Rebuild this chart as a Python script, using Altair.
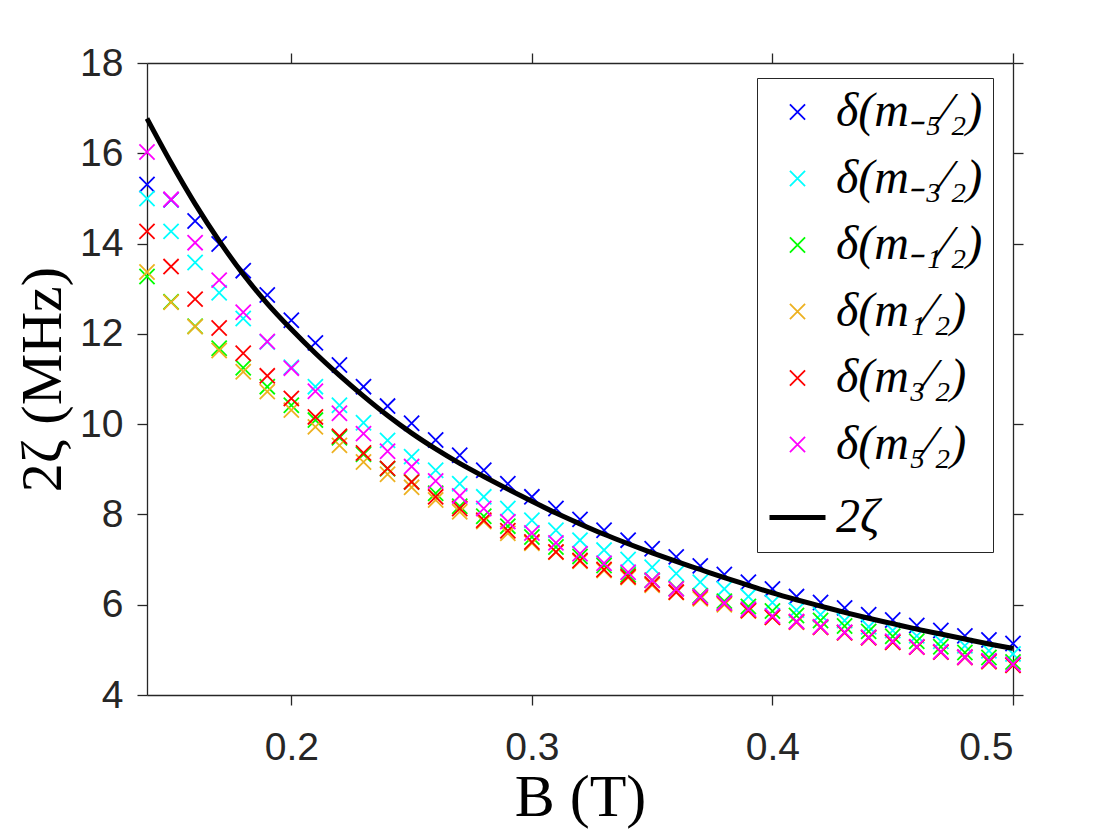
import altair as alt
import pandas as pd

B_T = [0.14, 0.15, 0.16, 0.17, 0.18, 0.19, 0.20, 0.21, 0.22, 0.23, 0.24, 0.25,
       0.26, 0.27, 0.28, 0.29, 0.30, 0.31, 0.32, 0.33, 0.34, 0.35, 0.36, 0.37,
       0.38, 0.39, 0.40, 0.41, 0.42, 0.43, 0.44, 0.45, 0.46, 0.47, 0.48, 0.49, 0.50]

d_m_neg52 = [15.31, 14.97, 14.50, 13.99, 13.40, 12.86, 12.30, 11.80, 11.31, 10.83, 10.40, 10.02,
             9.65, 9.31, 8.98, 8.68, 8.39, 8.13, 7.89, 7.65, 7.43, 7.24, 7.06, 6.86,
             6.67, 6.50, 6.35, 6.18, 6.05, 5.93, 5.78, 5.66, 5.54, 5.43, 5.31, 5.22, 5.14]
d_m_neg32 = [15.00, 14.27, 13.58, 12.91, 12.34, 11.82, 11.26, 10.83, 10.42, 10.03, 9.64, 9.28,
             8.98, 8.68, 8.39, 8.13, 7.87, 7.65, 7.43, 7.21, 7.00, 6.83, 6.69, 6.50,
             6.35, 6.18, 6.05, 5.88, 5.78, 5.65, 5.51, 5.43, 5.31, 5.19, 5.09, 4.98, 4.91]
d_m_neg12 = [13.27, 12.71, 12.17, 11.68, 11.25, 10.83, 10.42, 10.09, 9.70, 9.33, 9.01, 8.72,
             8.47, 8.18, 7.96, 7.74, 7.50, 7.28, 7.07, 6.87, 6.66, 6.54, 6.36, 6.20,
             6.08, 5.96, 5.86, 5.76, 5.65, 5.53, 5.41, 5.30, 5.19, 5.07, 4.94, 4.83, 4.73]
d_m_pos12 = [13.37, 12.70, 12.16, 11.63, 11.16, 10.72, 10.31, 9.94, 9.53, 9.16, 8.89, 8.60,
             8.32, 8.06, 7.84, 7.58, 7.36, 7.16, 6.96, 6.76, 6.60, 6.43, 6.27, 6.13,
             6.00, 5.86, 5.72, 5.61, 5.50, 5.38, 5.27, 5.17, 5.06, 4.95, 4.84, 4.74, 4.66]
d_m_pos32 = [14.27, 13.49, 12.77, 12.13, 11.57, 11.07, 10.57, 10.16, 9.73, 9.36, 9.02, 8.72,
             8.39, 8.13, 7.87, 7.64, 7.39, 7.17, 6.98, 6.78, 6.62, 6.46, 6.28, 6.16,
             6.03, 5.87, 5.72, 5.62, 5.50, 5.38, 5.27, 5.17, 5.06, 4.95, 4.83, 4.74, 4.66]
d_m_pos52 = [16.03, 14.98, 14.02, 13.19, 12.48, 11.83, 11.24, 10.73, 10.24, 9.79, 9.40, 9.06,
             8.74, 8.41, 8.13, 7.84, 7.59, 7.37, 7.13, 6.92, 6.72, 6.54, 6.35, 6.18,
             6.04, 5.90, 5.75, 5.63, 5.51, 5.39, 5.28, 5.19, 5.07, 4.96, 4.84, 4.76, 4.68]
two_zeta = [16.77, 15.79, 14.88, 14.06, 13.32, 12.67, 12.10, 11.57, 11.08, 10.62, 10.19, 9.80,
            9.45, 9.13, 8.84, 8.56, 8.29, 8.03, 7.79, 7.56, 7.35, 7.15, 6.96, 6.78,
            6.60, 6.43, 6.26, 6.11, 5.97, 5.83, 5.70, 5.58, 5.46, 5.35, 5.24, 5.13, 5.03]

labels = ["δ(m₋₅⁄₂)", "δ(m₋₃⁄₂)", "δ(m₋₁⁄₂)", "δ(m₁⁄₂)", "δ(m₃⁄₂)", "δ(m₅⁄₂)", "2ζ"]
colors = ["#0000FF", "#00FFFF", "#00FF00", "#EDB120", "#FF0000", "#FF00FF", "#000000"]
x_ticks = [0.2, 0.3, 0.4, 0.5]
y_ticks = [4, 6, 8, 10, 12, 14, 16, 18]

series = [d_m_neg52, d_m_neg32, d_m_neg12, d_m_pos12, d_m_pos32, d_m_pos52]
rows = []
for lab, vals in zip(labels[:6], series):
    for b, v in zip(B_T, vals):
        rows.append({"B": b, "v": v, "series": lab})
pts = pd.DataFrame(rows)
curve = pd.DataFrame({"B": B_T, "v": two_zeta})

xs = alt.Scale(domain=[0.14, 0.5], nice=False, zero=False)
ys = alt.Scale(domain=[4, 18], nice=False, zero=False)

ax = dict(domainColor="#262626", domainWidth=1.3, tickColor="#262626", tickWidth=1.3,
          tickSize=10, grid=False, labelColor="#262626", labelFont="Liberation Sans",
          labelFontSize=39, titleFont="Liberation Serif", titleFontSize=60,
          titleColor="black", titleFontWeight="normal")

xpath = "M-1,-1L1,1M-1,1L1,-1"
leg = alt.Legend(title=None, orient="none", legendX=610, legendY=15,
                 labelFont="Liberation Serif", labelFontSize=48, labelFontStyle="italic",
                 labelColor="black", strokeColor="#262626", fillColor="white",
                 padding=10, rowPadding=18.5, labelOffset=8, labelLimit=400,
                 symbolOpacity=1)

points = alt.Chart(pts).mark_point(filled=False, opacity=1).encode(
    x=alt.X("B:Q", scale=xs,
            axis=alt.Axis(values=x_ticks, format=".1f", title="B (T)",
                          labelPadding=23, titlePadding=1, **ax)),
    y=alt.Y("v:Q", scale=ys,
            axis=alt.Axis(values=y_ticks, format="d", title="2ζ (MHz)",
                          labelPadding=14, titlePadding=7, titleFontSize=58,
                          **{k: v for k, v in ax.items() if k != "titleFontSize"})),
    color=alt.Color("series:N", scale=alt.Scale(domain=labels, range=colors), legend=leg),
    shape=alt.Shape("series:N", scale=alt.Scale(domain=labels, range=[xpath] * 6 + ["stroke"]),
                    legend=leg),
    size=alt.Size("series:N", scale=alt.Scale(type="ordinal", domain=labels,
                                              range=[230] * 6 + [3136]), legend=leg),
    strokeWidth=alt.StrokeWidth("series:N", scale=alt.Scale(type="ordinal", domain=labels,
                                                            range=[1.8] * 6 + [5]), legend=leg),
)

line = alt.Chart(curve).mark_line(color="black", strokeWidth=5, interpolate="monotone").encode(
    x=alt.X("B:Q", scale=xs,
            axis=alt.Axis(orient="top", values=x_ticks, labels=False, title=None, **ax)),
    y=alt.Y("v:Q", scale=ys,
            axis=alt.Axis(orient="right", values=y_ticks, labels=False, title=None, **ax)),
)

chart = alt.layer(points, line).resolve_axis(x="independent", y="independent").properties(
    width=866, height=632,
    autosize=alt.AutoSizeParams(type="none"),
    padding={"left": 139, "top": 55, "right": 90, "bottom": 137},
    background="white",
).configure_view(stroke=None)

chart.save("out.html", embed_options={"renderer": "svg", "actions": False})
